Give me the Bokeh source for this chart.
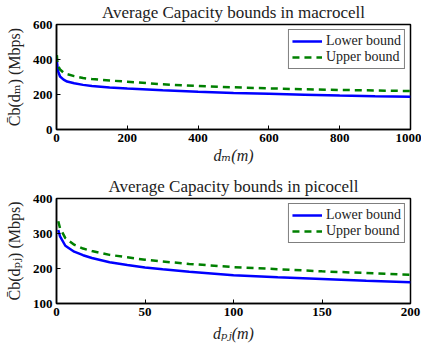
from bokeh.plotting import figure
from bokeh.models import Range1d
from bokeh.layouts import column
from bokeh.embed import file_html
from bokeh.resources import INLINE

# ---------------- data ----------------
macro_d = [1, 2, 5, 10, 20, 30, 50, 75, 100, 150, 200, 300, 400, 500, 600, 700, 800, 900, 1000]
macro_lower = [400, 370, 330, 303, 285, 274, 264, 255, 249, 240, 234, 224, 216, 209, 204, 199, 194, 190, 187]
macro_upper = [425, 395, 362, 343, 325, 316, 305, 294, 288, 280, 273, 258, 249, 241, 235, 230, 226, 223, 220]

pico_d = [1, 2, 5, 10, 15, 20, 30, 40, 50, 60, 75, 100, 125, 150, 175, 200]
pico_lower = [310, 292, 265, 248, 238, 230, 218, 210, 203, 198, 191, 181, 175, 170, 165, 161]
pico_upper = [335, 315, 287, 268, 257, 250, 239, 232, 225, 220, 213, 204, 198, 192, 187, 182]

macro_xticks = [0, 200, 400, 600, 800, 1000]
macro_yticks = [0, 200, 400, 600]
pico_xticks = [0, 50, 100, 150, 200]
pico_yticks = [100, 200, 300, 400]

titles = ["Average Capacity bounds in macrocell", "Average Capacity bounds in picocell"]
legend_labels = ["Lower bound", "Upper bound"]
xlabels = ["d\u2098(m)", "d\u209a\u2c7c(m)"]
ylabels = ["C\u0304b(d\u2098) (Mbps)", "C\u0304b(d\u209a\u2c7c) (Mbps)"]

SERIF = "Liberation Serif"
SERIF_FB = "'Liberation Serif', 'DejaVu Serif', serif"


def make_fig(title, xr, yr, xticks, yticks, height, bt, bb, xlabel, ylabel, xstand):
    p = figure(width=421, height=height, output_backend="svg", toolbar_location=None,
               x_range=Range1d(*xr), y_range=Range1d(*yr),
               min_border_left=56, min_border_right=11, min_border_top=bt, min_border_bottom=bb)
    p.title.text = title
    p.title.align = "center"
    p.title.vertical_align = "top"
    p.title.text_font = SERIF
    p.title.text_font_style = "normal"
    p.title.text_font_size = "17px"
    p.title.text_color = "#222222"
    p.title.standoff = 2
    p.grid.visible = False
    p.outline_line_color = "black"
    p.outline_line_width = 1.5
    p.outline_line_alpha = 1
    p.background_fill_color = "white"
    p.border_fill_color = "white"
    for ax in (p.xaxis[0], p.yaxis[0]):
        ax.major_tick_in = 4
        ax.major_tick_out = 0
        ax.minor_tick_line_color = None
        ax.axis_line_color = "black"
        ax.axis_line_width = 1.5
        ax.major_tick_line_color = "black"
        ax.major_label_text_font = SERIF
        ax.major_label_text_font_style = "bold"
        ax.major_label_text_font_size = "13px"
        ax.major_label_text_color = "black"
        ax.major_label_standoff = 4
        ax.axis_label_text_font = SERIF_FB
        ax.axis_label_text_color = "#222222"
    p.xaxis.ticker = xticks
    p.yaxis.ticker = yticks
    p.xaxis.axis_label = xlabel
    p.xaxis.axis_label_text_font_style = "italic"
    p.xaxis.axis_label_text_font_size = "16px"
    p.xaxis.axis_label_standoff = xstand
    p.yaxis.axis_label = ylabel
    p.yaxis.axis_label_text_font_style = "normal"
    p.yaxis.axis_label_text_font_size = "16px"
    p.yaxis.axis_label_standoff = 7
    return p


p1 = make_fig(titles[0], (0, 1000), (0, 600), macro_xticks, macro_yticks, 175, 24, 46,
              xlabels[0], ylabels[0], 2)
p1.line(macro_d, macro_lower, line_color="#0000ff", line_width=2.5, legend_label=legend_labels[0])
p1.line(macro_d, macro_upper, line_color="#008000", line_width=2.5, line_dash="7 5", legend_label=legend_labels[1])

p2 = make_fig(titles[1], (0, 200), (100, 400), pico_xticks, pico_yticks, 174, 23, 46,
              xlabels[1], ylabels[1], 6)
p2.line(pico_d, pico_lower, line_color="#0000ff", line_width=2.5, legend_label=legend_labels[0])
p2.line(pico_d, pico_upper, line_color="#008000", line_width=2.5, line_dash="7 5", legend_label=legend_labels[1])

for p in (p1, p2):
    lg = p.legend[0]
    lg.location = "top_right"
    lg.margin = 5
    lg.padding = 3
    lg.spacing = 0
    lg.border_line_color = "black"
    lg.border_line_width = 1.2
    lg.background_fill_alpha = 1
    lg.label_text_font = SERIF
    lg.label_text_font_size = "14px"
    lg.label_text_color = "#222222"
    lg.label_height = 10
    lg.glyph_height = 10
    lg.glyph_width = 30
    lg.label_standoff = 4

layout = column(p1, p2)
open("out.html", "w").write(file_html(layout, INLINE))
